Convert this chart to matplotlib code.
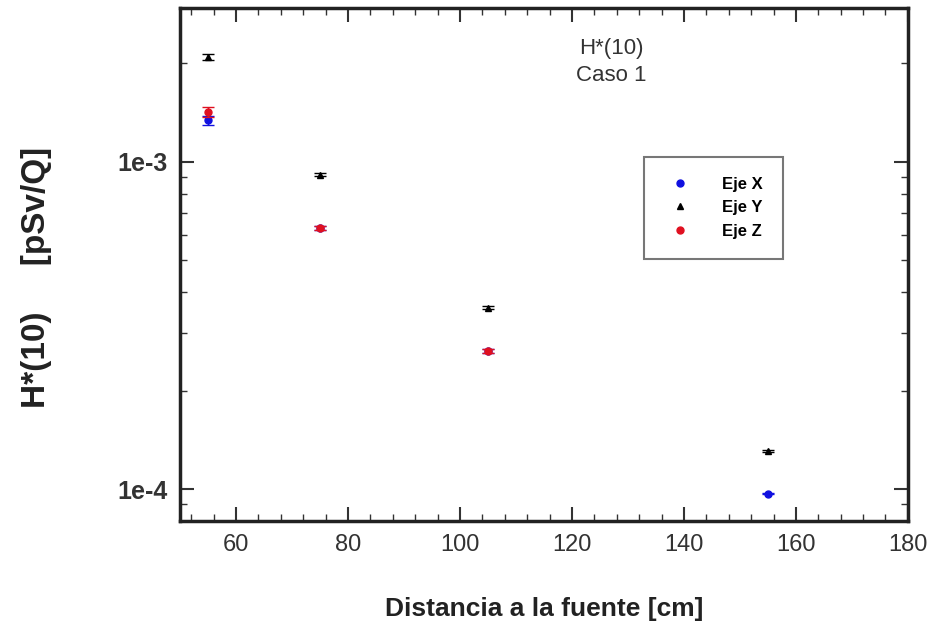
import numpy as np
import matplotlib
matplotlib.use("Agg")
import matplotlib.pyplot as plt
from matplotlib.lines import Line2D
from matplotlib.ticker import FixedLocator, MultipleLocator, LogLocator, NullFormatter

plt.rcParams['font.family'] = ['Liberation Sans', 'DejaVu Sans']

# datos
distancia = [55, 75, 105, 155]
eje_x = [1.34e-3, 6.29e-4, 2.64e-4, 9.7e-5]
eje_y = [2.09e-3, 9.13e-4, 3.59e-4, 1.31e-4]
eje_z = [1.42e-3, 6.29e-4, 2.64e-4, np.nan]
err_x = [0.04e-3, 0.01e-3, 0.04e-4, 0.02e-5]
err_y = [0.04e-3, 0.01e-3, 0.04e-4, 0.01e-4]
err_z = [0.05e-3, 0.01e-3, 0.04e-4, np.nan]

c_x, c_y, c_z = '#1010e0', 'black', '#e01020'

fig = plt.figure(figsize=(9.35, 6.23), dpi=100)
ax = fig.add_axes([0.1925, 0.1637, 0.7785, 0.8233])

ax.errorbar(distancia, eje_x, yerr=err_x, fmt='o', color=c_x, ms=5,
            capsize=4, elinewidth=1, zorder=3)
ax.errorbar(distancia, eje_y, yerr=err_y, fmt='^', color=c_y, ms=5,
            capsize=4, elinewidth=1, zorder=4)
ax.errorbar(distancia, eje_z, yerr=err_z, fmt='o', color=c_z, ms=5,
            capsize=4, elinewidth=1, zorder=5)

ax.set_yscale('log')
ax.set_xlim(50, 180)
ax.set_ylim(8.0e-5, 2.95e-3)

ax.xaxis.set_major_locator(MultipleLocator(20))
ax.xaxis.set_minor_locator(MultipleLocator(4))
ax.yaxis.set_major_locator(FixedLocator([1e-4, 1e-3]))
ax.yaxis.set_minor_locator(LogLocator(base=10, subs=np.arange(2, 10)))
ax.yaxis.set_minor_formatter(NullFormatter())
ax.set_yticklabels(['1e-4', '1e-3'], fontsize=18, fontweight='bold', color='#222222')
for lab in ax.get_xticklabels():
    lab.set_fontsize(17)
    lab.set_color('#222222')

ax.tick_params(which='both', direction='in', top=True, right=True, colors='#333333')
ax.tick_params(which='major', length=10, width=1.5, pad=9)
ax.tick_params(which='minor', length=5, width=1)
for s in ax.spines.values():
    s.set_linewidth(2.5)
    s.set_color('#222222')

ax.set_xlabel('Distancia a la fuente [cm]', fontsize=19, fontweight='bold',
              labelpad=30, color='#222222')
ax.set_ylabel('H*(10)     [pSv/Q]', fontsize=24, fontweight='bold', color='#222222')
ax.yaxis.set_label_coords(-0.176, 0.474)

ax.text(0.593, 0.895, 'H*(10)\nCaso 1', transform=ax.transAxes, ha='center',
        va='center', fontsize=16, color='#333333', linespacing=1.35)

handles = [Line2D([], [], ls='none', marker='o', color=c_x, ms=5),
           Line2D([], [], ls='none', marker='^', color=c_y, ms=5),
           Line2D([], [], ls='none', marker='o', color=c_z, ms=5)]
leg = ax.legend(handles, ['Eje X', 'Eje Y', 'Eje Z'], loc='upper left',
                bbox_to_anchor=(0.637, 0.71),
                prop={'weight': 'bold', 'size': 12}, fancybox=False,
                edgecolor='#555555', handletextpad=1.5, borderpad=1.2,
                labelspacing=0.5, handlelength=2.0, borderaxespad=0)
leg.get_frame().set_linewidth(1.5)

fig.savefig('out.png', dpi=100)
